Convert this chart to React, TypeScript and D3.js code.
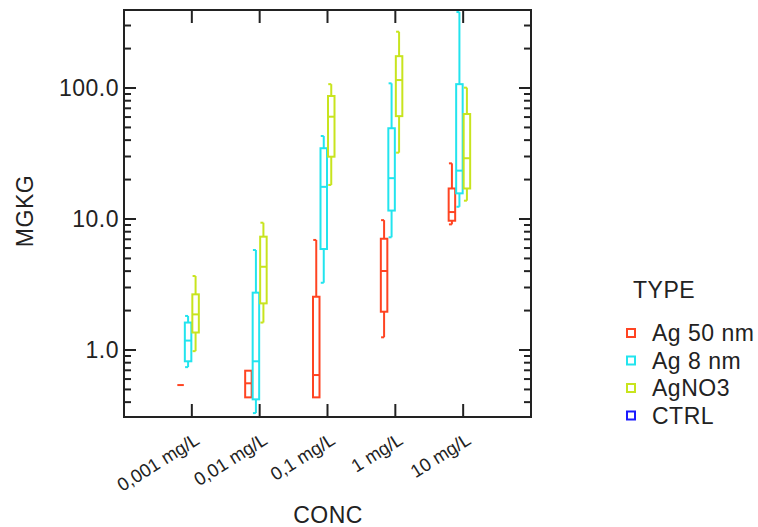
import React from "react";
import * as d3 from "d3";

// Categories, series and values (whisker low, Q1, median, Q3, whisker high)
const categories = ["0,001 mg/L", "0,01 mg/L", "0,1 mg/L", "1 mg/L", "10 mg/L"];
const types = ["Ag 50 nm", "Ag 8 nm", "AgNO3", "CTRL"];
const typeColors = ["#ff4422", "#22e4ee", "#c8e41e", "#1a1aff"];

const ag50: (number[] | null)[] = [
  [0.54, 0.54, 0.54, 0.54, 0.54],
  [0.435, 0.435, 0.557, 0.695, 0.695],
  [0.435, 0.435, 0.644, 2.55, 6.92],
  [1.25, 1.96, 4.01, 7.07, 9.8],
  [9.1, 9.7, 11.3, 17.1, 26.6],
];
const ag8: (number[] | null)[] = [
  [0.74, 0.82, 1.18, 1.62, 1.82],
  [0.33, 0.42, 0.82, 2.74, 5.8],
  [3.26, 5.9, 17.6, 34.7, 43],
  [7.25, 11.6, 20.5, 49.3, 108.6],
  [12.4, 15.7, 23.4, 107, 380],
];
const agno3: (number[] | null)[] = [
  [0.98, 1.36, 1.87, 2.66, 3.67],
  [1.62, 2.27, 4.32, 7.33, 9.37],
  [18.2, 29.9, 60.4, 86.9, 107],
  [32.1, 61, 115, 175, 269],
  [13.8, 17.1, 29.1, 63.3, 100.6],
];
const ctrl: (number[] | null)[] = [null, null, null, null, null];
const seriesValues = [ag50, ag8, agno3, ctrl];

const yMajorTicks = [1, 10, 100];
const yTickLabels = ["1.0", "10.0", "100.0"];

const FONT = "'Liberation Sans', Arial, sans-serif";
const INK = "#222";
const FS = 23;
const LS = 0.5;

export default function App() {
  const W = 758, H = 527;
  const L = 124, R = 531, T = 10, B = 417;

  const x = d3.scalePoint<string>().domain(categories).range([L, R]).padding(1);
  const off = d3.scaleBand<string>().domain(types).range([-15, 15]);
  const y = d3.scaleLog().domain([0.308, 394]).range([B, T]);

  const boxW = 6.5;

  // minor ticks
  const minor: number[] = [];
  for (const dec of [0.1, 1, 10, 100]) {
    for (let k = 2; k <= 9; k++) {
      const v = dec * k;
      if (v >= 0.308 && v <= 394) minor.push(v);
    }
  }

  return (
    <svg width={W} height={H} style={{ position: "absolute", left: 0, top: 0, background: "#fff" }}>
      <defs>
        <clipPath id="plotclip">
          <rect x={L} y={T} width={R - L} height={B - T} />
        </clipPath>
      </defs>
      <rect x={0} y={0} width={W} height={H} fill="#fff" />

      {/* boxes */}
      <g clipPath="url(#plotclip)">
        {seriesValues.map((ser, si) =>
          ser.map((d, ci) => {
            if (!d) return null;
            const cx = (x(categories[ci]) as number) + (off(types[si]) as number) + off.bandwidth() / 2;
            const [lo, q1, med, q3, hi] = d;
            const col = typeColors[si];
            return (
              <g key={si + "-" + ci} stroke={col} strokeWidth={2} fill="none">
                {hi > q3 && <line x1={cx} x2={cx} y1={y(q3)} y2={y(hi)} />}
                {hi > q3 && <line x1={cx - 3} x2={cx} y1={y(hi)} y2={y(hi)} />}
                {lo < q1 && <line x1={cx} x2={cx} y1={y(q1)} y2={y(lo)} />}
                {lo < q1 && <line x1={cx - 3} x2={cx} y1={y(lo)} y2={y(lo)} />}
                <rect x={cx - boxW / 2} y={y(q3)} width={boxW} height={Math.max(0, y(q1) - y(q3))} />
                <line x1={cx - boxW / 2} x2={cx + boxW / 2} y1={y(med)} y2={y(med)} />
              </g>
            );
          })
        )}
      </g>

      {/* frame */}
      <rect x={L} y={T} width={R - L} height={B - T} fill="none" stroke={INK} strokeWidth={2} />

      {/* y ticks left & right */}
      {yMajorTicks.map((v) => (
        <g key={"M" + v} stroke={INK} strokeWidth={2}>
          <line x1={L} x2={L + 12} y1={y(v)} y2={y(v)} />
          <line x1={R} x2={R - 12} y1={y(v)} y2={y(v)} />
        </g>
      ))}
      {minor.map((v) => (
        <g key={"m" + v} stroke={INK} strokeWidth={2}>
          <line x1={L} x2={L + 7} y1={y(v)} y2={y(v)} />
          <line x1={R} x2={R - 7} y1={y(v)} y2={y(v)} />
        </g>
      ))}
      {yMajorTicks.map((v, i) => (
        <text key={"t" + v} x={119} y={y(v)} dy="0.36em" textAnchor="end" fontFamily={FONT} fontSize={FS} letterSpacing={LS} fill={INK}>
          {yTickLabels[i]}
        </text>
      ))}

      {/* x ticks top & bottom */}
      {categories.map((c) => (
        <g key={"x" + c} stroke={INK} strokeWidth={2}>
          <line x1={x(c)} x2={x(c)} y1={B} y2={B - 13} />
          <line x1={x(c)} x2={x(c)} y1={T} y2={T + 13} />
        </g>
      ))}
      {categories.map((c) => (
        <text
          key={"xl" + c}
          transform={`translate(${(x(c) as number) + 9},443) rotate(-32)`}
          textAnchor="end"
          fontFamily={FONT}
          fontSize={18.5}
          fill={INK}
        >
          {c}
        </text>
      ))}

      {/* axis titles */}
      <text transform="translate(33,211) rotate(-90)" textAnchor="middle" fontFamily={FONT} fontSize={FS} letterSpacing={LS} fill={INK}>
        MGKG
      </text>
      <text x={328} y={523} textAnchor="middle" fontFamily={FONT} fontSize={FS} letterSpacing={LS} fill={INK}>
        CONC
      </text>

      {/* legend */}
      <text x={633} y={298} fontFamily={FONT} fontSize={FS} letterSpacing={LS} fill={INK}>
        TYPE
      </text>
      {types.map((t, i) => {
        const cy = 333 + i * 27.5;
        return (
          <g key={"lg" + t}>
            <rect x={627} y={cy - 4} width={8} height={8} fill="none" stroke={typeColors[i]} strokeWidth={2} />
            <text x={652} y={cy + 8} fontFamily={FONT} fontSize={FS} letterSpacing={LS} fill={INK}>
              {t}
            </text>
          </g>
        );
      })}
    </svg>
  );
}
